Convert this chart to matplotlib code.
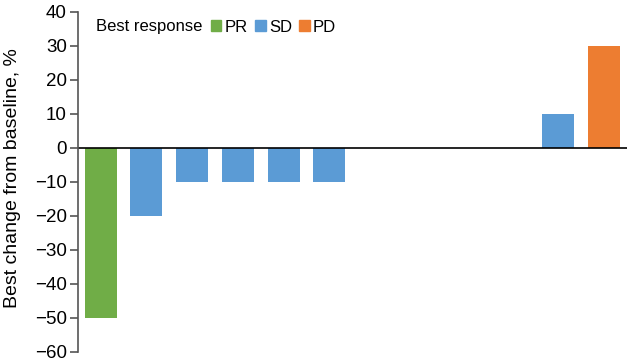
import matplotlib.pyplot as plt
import matplotlib.patches as mpatches
import numpy as np

# best change from baseline for each patient (%), sorted as in the figure
changes = [-50, -20, -10, -10, -10, -10, 0, 0, 0, 0, 10, 30]
responses = ['PR', 'SD', 'SD', 'SD', 'SD', 'SD', 'SD', 'SD', 'SD', 'SD', 'SD', 'PD']
colors = {'PR': '#70AD47', 'SD': '#5B9BD5', 'PD': '#ED7D31'}
yticks = [40, 30, 20, 10, 0, -10, -20, -30, -40, -50, -60]

plt.rcParams['font.family'] = ['Liberation Sans', 'DejaVu Sans']

fig = plt.figure(figsize=(6.28, 3.62), dpi=100)
ax = fig.add_axes([0.124, 0.028, 0.874, 0.939])

x = np.arange(len(changes))
ax.bar(x, changes, width=0.7, color=[colors[r] for r in responses])

# zero line across the plot
ax.axhline(0, color='black', linewidth=1.2)

ax.set_xlim(-0.5, 11.5)
ax.set_ylim(-60, 40)
ax.set_yticks(yticks)
ax.set_xticks([])

for s in ['top', 'right', 'bottom']:
    ax.spines[s].set_visible(False)
ax.spines['left'].set_color('#555555')
ax.spines['left'].set_linewidth(1.2)
ax.tick_params(axis='y', direction='out', length=6, width=1.2, color='#555555',
               labelsize=13.5, pad=2)

ax.set_ylabel('Best change from baseline, %', fontsize=14)
ax.yaxis.set_label_coords(-0.104, 0.51)

# legend: title on the left, patches in one row
fig.text(96 / 628, 1 - 27 / 362, 'Best response', fontsize=12, va='center', ha='left')
handles = [mpatches.Patch(color=colors[k]) for k in ['PR', 'SD', 'PD']]
leg = fig.legend(handles, ['PR', 'SD', 'PD'], ncol=3, frameon=False,
                 loc='center left', bbox_to_anchor=(211 / 628, 1 - 27 / 362),
                 fontsize=12, handlelength=0.62, handleheight=0.62,
                 handletextpad=0.2, columnspacing=0.45, borderpad=0, borderaxespad=0)

fig.savefig('out.png', dpi=100)
